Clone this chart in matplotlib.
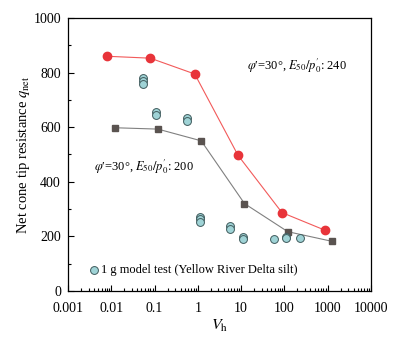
import matplotlib
matplotlib.use("Agg")
import matplotlib.pyplot as plt
from matplotlib.ticker import LogLocator, NullFormatter, MultipleLocator

plt.rcParams["font.family"] = ["Liberation Serif", "DejaVu Serif"]
plt.rcParams["mathtext.fontset"] = "stix"

# red: phi'=30, E50/p'0 = 240
vh_240 = [0.008, 0.08, 0.85, 8.5, 88, 880]
q_240 = [860, 853, 795, 497, 287, 222]

# grey: phi'=30, E50/p'0 = 200
vh_200 = [0.012, 0.12, 1.2, 12, 120, 1230]
q_200 = [598, 593, 550, 320, 217, 182]

# 1 g model tests
vh_test = [0.055, 0.055, 0.055, 0.11, 0.11, 0.57, 0.57,
           1.12, 1.12, 1.12, 5.7, 5.7, 11, 11, 58, 112, 112, 228]
q_test = [780, 768, 757, 657, 646, 632, 622,
          272, 263, 253, 236, 228, 196, 191, 190, 197, 192, 192]

fig = plt.figure(figsize=(3.95, 3.41), dpi=100)
ax = fig.add_axes([0.172, 0.147, 0.767, 0.800])

ax.plot(vh_240, q_240, color="#f25a5a", lw=0.8, marker="o", ms=6,
        mfc="#e8343a", mec="#e8343a", zorder=3)
ax.plot(vh_200, q_200, color="#808080", lw=0.8, marker="s", ms=5,
        mfc="#5a5350", mec="#5a5350", zorder=3)
ax.scatter(vh_test, q_test, s=32, facecolor="#9fd3d6", edgecolor="#3f5a5c",
           linewidths=0.7, zorder=4,
           label="1 g model test (Yellow River Delta silt)")

ax.set_xscale("log")
ax.set_xlim(0.001, 10000)
ax.set_ylim(0, 1000)
ax.set_xticks([0.001, 0.01, 0.1, 1, 10, 100, 1000, 10000])
ax.set_xticklabels(["0.001", "0.01", "0.1", "1", "10", "100", "1000", "10000"])
ax.xaxis.set_minor_locator(LogLocator(base=10, subs=range(2, 10), numticks=20))
ax.xaxis.set_minor_formatter(NullFormatter())
ax.yaxis.set_major_locator(MultipleLocator(200))
ax.yaxis.set_minor_locator(MultipleLocator(100))

ax.tick_params(which="both", direction="in", top=False, right=False,
               labelsize=10, width=0.8)
ax.tick_params(which="major", length=4)
ax.tick_params(which="minor", length=2)
ax.tick_params(axis="x", which="major", pad=8)
ax.tick_params(axis="y", which="major", pad=5)
for s in ax.spines.values():
    s.set_linewidth(0.9)

ax.set_xlabel(r"$V_{\rm h}$", fontsize=11.5, labelpad=2)
ax.set_ylabel(r"Net cone tip resistance $q_{\rm net}$", fontsize=10.5, labelpad=1)

ax.text(0.59, 0.824, r"$\varphi$′=30°, $E_{50}/p_0^{\prime}$: 240",
        transform=ax.transAxes, fontsize=9, ha="left", va="center")
ax.text(0.085, 0.454, r"$\varphi$′=30°, $E_{50}/p_0^{\prime}$: 200",
        transform=ax.transAxes, fontsize=9, ha="left", va="center")

ax.legend(loc="lower left", bbox_to_anchor=(0.05, 0.035), frameon=False,
          fontsize=9, handletextpad=0.0, borderaxespad=0, markerscale=1.0,
          handlelength=1.0)

fig.savefig("out.png", dpi=100)
